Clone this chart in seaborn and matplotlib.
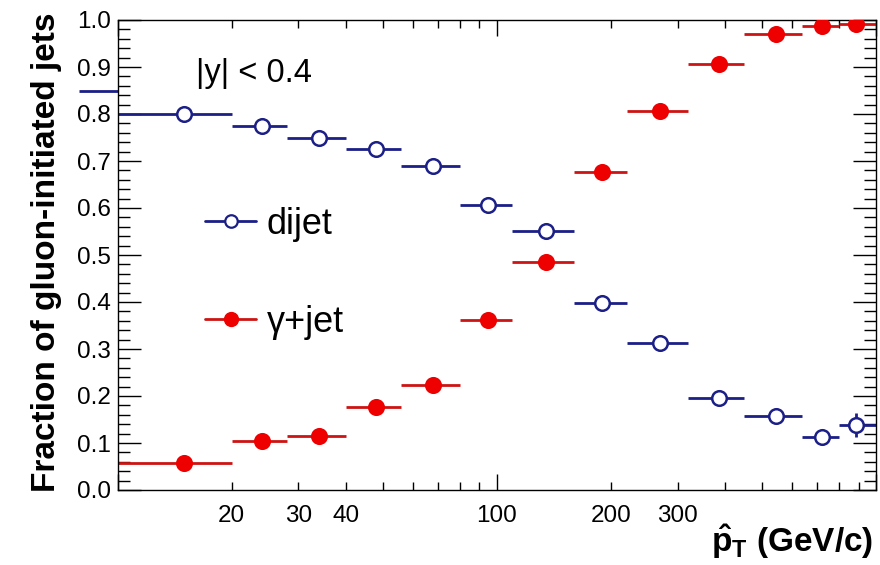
import matplotlib
matplotlib.use("Agg")
import matplotlib.pyplot as plt
import numpy as np
import pandas as pd
import seaborn as sns
from matplotlib.lines import Line2D
from matplotlib.ticker import FixedLocator, LogLocator, FuncFormatter, MultipleLocator

# pT-hat bins (GeV/c): lower edge, upper edge, point position
bin_lo = [10, 20, 28, 40, 56, 80, 110, 160, 220, 320, 450, 640, 800]
bin_hi = [20, 28, 40, 56, 80, 110, 160, 220, 320, 450, 640, 800, 1000]
bin_center = [15, 24, 34, 48, 68, 95, 135, 190, 270, 385, 545, 720, 885]

# fraction of gluon-initiated jets
dijet_frac = [0.800, 0.775, 0.750, 0.725, 0.690, 0.606, 0.551, 0.397, 0.312, 0.195, 0.157, 0.113, 0.138]
dijet_err = [0, 0, 0, 0, 0, 0, 0, 0, 0, 0, 0, 0, 0.025]
gjet_frac = [0.057, 0.105, 0.115, 0.176, 0.223, 0.362, 0.486, 0.677, 0.806, 0.906, 0.970, 0.987, 0.991]
gjet_err = [0, 0, 0, 0, 0, 0, 0, 0, 0, 0, 0, 0, 0]

# dijet bin just below the x range: only its bar end is drawn, beside the frame
dijet_low_bin = [7.9, 10]
dijet_low_frac = 0.848

series_labels = ["dijet", "\u03b3+jet"]
xtick_labels = [20, 30, 40, 100, 200, 300]
ytick_values = [0.0, 0.1, 0.2, 0.3, 0.4, 0.5, 0.6, 0.7, 0.8, 0.9, 1.0]

navy = "#1b1f86"
red_line = "#cc1414"
red_fill = "#ee0000"

sns.set_theme(style="ticks")
plt.rcParams.update({
    "font.family": ["Liberation Sans", "DejaVu Sans"],
    "mathtext.fontset": "custom",
    "mathtext.rm": "Liberation Sans",
    "mathtext.bf": "Liberation Sans:bold",
    "mathtext.it": "Liberation Sans:italic",
    "axes.linewidth": 1.0,
    "axes.edgecolor": "black",
    "text.color": "black",
    "axes.labelcolor": "black",
    "xtick.color": "black",
    "ytick.color": "black",
})

df = pd.DataFrame({
    "lo": bin_lo * 2,
    "hi": bin_hi * 2,
    "pt": bin_center * 2,
    "frac": dijet_frac + gjet_frac,
    "err": dijet_err + gjet_err,
    "sample": [series_labels[0]] * len(bin_center) + [series_labels[1]] * len(bin_center),
})

fig = plt.figure(figsize=(8.8, 5.65), dpi=100)
ax = fig.add_axes([117.5 / 880, 1 - 490 / 565, (876 - 117.5) / 880, 470 / 565])

styles = {
    series_labels[0]: dict(line=navy, face="white", edge=navy),
    series_labels[1]: dict(line=red_line, face=red_fill, edge=red_fill),
}

for name, sub in df.groupby("sample", sort=False):
    st = styles[name]
    ax.hlines(sub["frac"], sub["lo"], sub["hi"], color=st["line"], lw=2.0, zorder=2,
              clip_on=False)
    has_err = sub[sub["err"] > 0]
    ax.vlines(has_err["pt"], has_err["frac"] - has_err["err"], has_err["frac"] + has_err["err"],
              color=st["line"], lw=2.0, zorder=2)
    sns.scatterplot(data=sub, x="pt", y="frac", ax=ax, s=110, marker="o",
                    facecolor=st["face"], edgecolor=st["edge"], linewidth=1.8,
                    zorder=3, legend=False)

ax.hlines([dijet_low_frac], dijet_low_bin[0], dijet_low_bin[1], color=navy, lw=2.0,
          zorder=2, clip_on=False)

ax.set_xscale("log")
ax.set_xlim(10, 1000)
ax.set_ylim(0, 1)

ax.xaxis.set_major_locator(LogLocator(base=10))
ax.xaxis.set_minor_locator(LogLocator(base=10, subs=np.arange(2, 10)))
label_fmt = FuncFormatter(lambda v, pos: f"{v:g}" if any(abs(v - t) < 1e-6 for t in xtick_labels) else "")
ax.xaxis.set_major_formatter(label_fmt)
ax.xaxis.set_minor_formatter(label_fmt)

ax.yaxis.set_major_locator(FixedLocator(ytick_values))
ax.yaxis.set_minor_locator(MultipleLocator(0.02))
ax.yaxis.set_major_formatter(FuncFormatter(lambda v, pos: f"{v:.1f}"))

ax.tick_params(axis="both", which="both", direction="in", top=True, right=True,
               width=1.0, color="black", labelsize=17.5, labelcolor="black")
ax.tick_params(axis="y", which="major", length=16.5, pad=5)
ax.tick_params(axis="y", which="minor", length=8.5)
ax.tick_params(axis="x", which="major", length=11.5, pad=11)
ax.tick_params(axis="x", which="minor", length=5.8, pad=11)

ax.set_xlabel(r"$\mathbf{\hat{p}_{T}}$ (GeV/c)", fontsize=24, fontweight="bold",
              ha="right", va="baseline", color="black")
ax.xaxis.set_label_coords(0.996, -(552 - 490) / 470)
ax.set_ylabel("Fraction of gluon-initiated jets", fontsize=24, fontweight="bold",
              color="black")
ax.yaxis.set_label_coords(-(117.5 - 62) / 758.5, 0.506)

ax.text(0.1035, 0.868, "|y| < 0.4", transform=ax.transAxes, fontsize=23.5,
        ha="left", va="baseline", color="black")

handles = [
    Line2D([], [], color=navy, lw=2.0, marker="o", ms=9, mfc="white", mec=navy, mew=1.6),
    Line2D([], [], color=red_line, lw=2.0, marker="o", ms=10, mfc=red_fill, mec=red_fill),
]
leg = ax.legend(handles, series_labels, loc="upper left", bbox_to_anchor=(0.1154, 0.602),
                frameon=False, fontsize=26, handlelength=1.42, handletextpad=0.28,
                labelspacing=1.73, borderpad=0, borderaxespad=0)
for t in leg.get_texts():
    t.set_color("black")

sns.despine(ax=ax, top=False, right=False)
fig.savefig("out.png", dpi=100)
